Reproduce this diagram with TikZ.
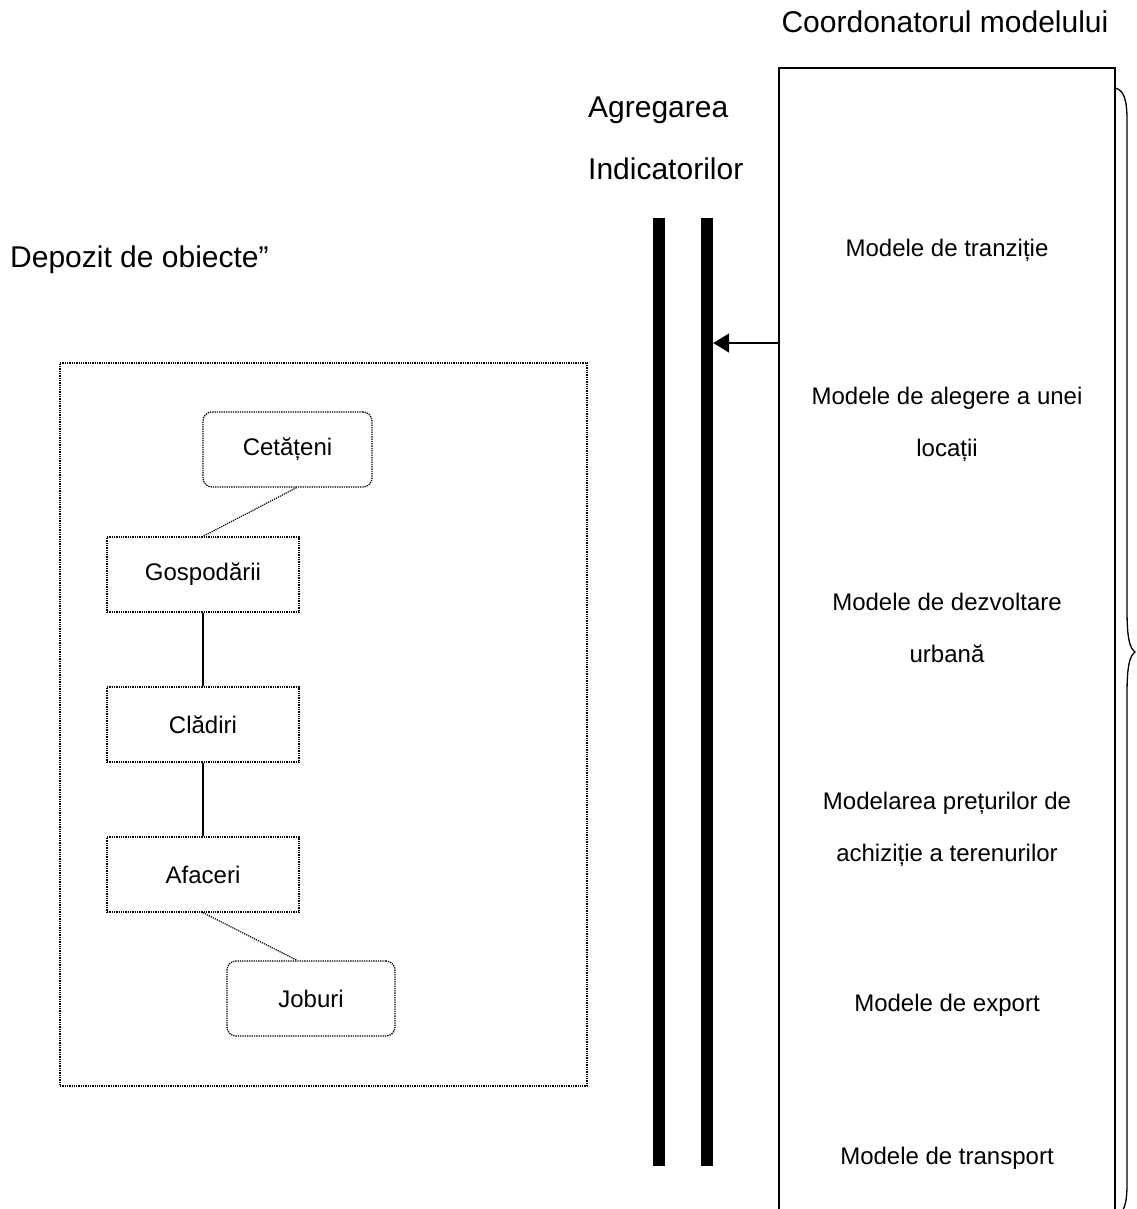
\documentclass[tikz,border=0pt]{standalone}
\usepackage{fontspec}
\setmainfont{Liberation Sans}
\usetikzlibrary{arrows.meta,positioning,calc}

\begin{document}
\begin{tikzpicture}[x=1pt, y=-1pt,
    every node/.style={font=\fontsize{24}{52}\selectfont, inner sep=0pt},
    titlu/.style={font=\fontsize{30}{36}\selectfont},
    obiect/.style={draw, densely dotted, line width=1.3pt, minimum width=192pt, minimum height=75pt},
    obiectrot/.style={obiect, rounded corners=9pt, minimum width=168pt},
    bara/.style={fill=black, minimum width=12pt, minimum height=948pt},
    legatura/.style={line width=1.5pt},
    model/.style={align=center}
  ]
  % Cadru fix (1136 x 1209)
  \clip (0,0) rectangle (1136,1209);

  % Titluri
  \node[titlu, anchor=base] (titlucoord) at (945,33) {Coordonatorul modelului};
  \node[titlu, anchor=base west] (agreg) at (588,118) {Agregarea};
  \node[titlu, anchor=base west] (indic) at (588,180) {Indicatorilor};
  \node[titlu, anchor=base west] (depoz) at (10,267) {Depozit de obiecte”};

  % Depozitul de obiecte
  \node[obiect, minimum width=527pt, minimum height=723pt] (depozit) at (323.5,724.5) {};
  \node[obiectrot, minimum width=169pt] (cet) at (287.5,449.5) {Cetățeni};
  \node[obiect] (gosp) at (203,574.5) {Gospodării};
  \node[obiect] (clad) at (203,724.5) {Clădiri};
  \node[obiect] (afac) at (203,874.5) {Afaceri};
  \node[obiectrot] (job) at (311,998.5) {Joburi};

  \draw[line width=1.2pt, densely dotted] ($(cet.south)+(9,0)$) -- (gosp.north);
  \draw[line width=1.2pt] (gosp) -- (clad);
  \draw[line width=1.2pt] (clad) -- (afac);
  \draw[line width=1.2pt, densely dotted] (afac.south) -- ($(job.north)+(-14,0)$);

  % Bare de agregare
  \node[bara] (bara1) at (659,692) {};
  \node[bara] (bara2) at (707,692) {};

  % Coordonatorul modelului
  \draw[legatura] (779,1220) -- (779,68) -- (1115,68) -- (1115,1220);
  \coordinate (iesire) at (779,343);
  \draw[legatura, -{Triangle[length=16pt,width=19pt]}] (iesire) -- (iesire -| bara2.east);

  % Acolada
  \draw[line width=1.3pt] (1115,88) .. controls (1124,90) and (1127,100) .. (1127,120)
    -- (1127,610) .. controls (1127,640) and (1130,648) .. (1135,652)
    .. controls (1130,656) and (1127,664) .. (1127,694)
    -- (1127,1184) .. controls (1127,1204) and (1124,1214) .. (1115,1216);

  % Modele
  \node[model] (m1) at (947,250) {Modele de tranziție};
  \node[model] (m2) at (947,424) {Modele de alegere a unei\\locații};
  \node[model] (m3) at (947,628) {Modele de dezvoltare\\urbană};
  \node[model] (m4) at (947,829) {Modelarea prețurilor de\\achiziție a terenurilor};
  \node[model] (m5) at (947,1005) {Modele de export};
  \node[model] (m6) at (947,1158) {Modele de transport};
\end{tikzpicture}
\end{document}
